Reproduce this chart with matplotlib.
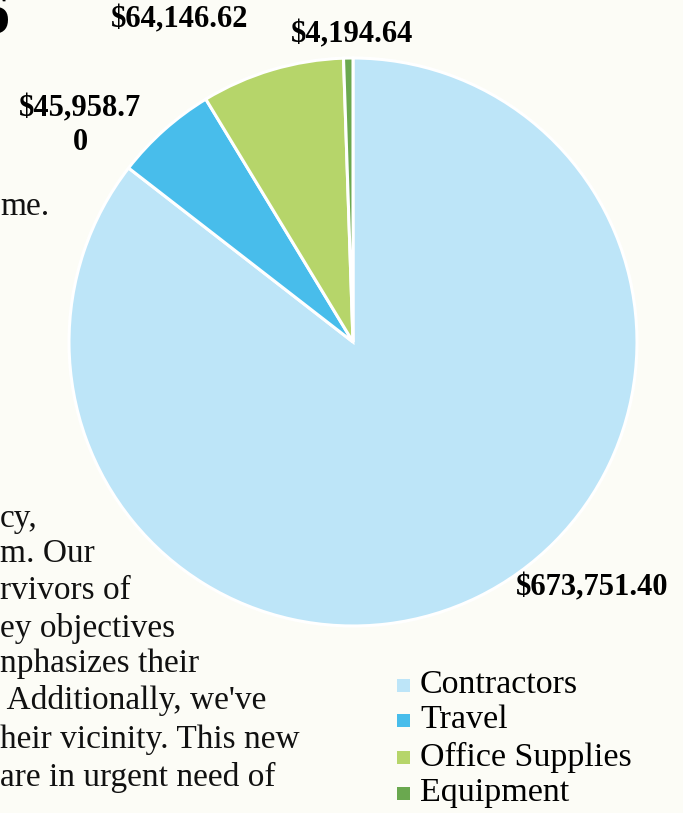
import matplotlib.pyplot as plt
from matplotlib.patches import Rectangle

# expense breakdown
categories = ['Contractors', 'Travel', 'Office Supplies', 'Equipment']
amounts = [673751.40, 45958.70, 64146.62, 4194.64]
colors = ['#bde5f8', '#48bdeb', '#b6d56a', '#6aa84f']
value_labels = ['$673,751.40', '$45,958.7\n0', '$64,146.62', '$4,194.64']

# page text that sits behind the chart
page_lines = ['me.', 'cy,', 'm. Our', 'rvivors of', 'ey objectives',
              'nphasizes their', ' Additionally, we\'ve',
              'heir vicinity. This new', 'are in urgent need of']
page_line_y = [207, 519, 554, 591, 628, 664, 700, 740, 777]

W, H = 683, 813
SERIF = ['Liberation Serif', 'DejaVu Serif']

fig = plt.figure(figsize=(W / 100, H / 100), dpi=100)
fig.patch.set_facecolor('#fcfcf6')
ax = fig.add_axes([0, 0, 1, 1])

# background page text
ax.text(-22, H - 18, '6', fontsize=46, fontweight='bold', family=SERIF,
        va='center', ha='left')
for line, y in zip(page_lines, page_line_y):
    ax.text(0, H - y, line, fontsize=24, family=SERIF, va='center',
            ha='left', color='#111111', zorder=1)

cx, cy, r = 353, H - 342, 284
wedges, _ = ax.pie(amounts, colors=colors, startangle=90, counterclock=False,
                   center=(cx, cy), radius=r, frame=True,
                   wedgeprops=dict(edgecolor='white', linewidth=2.2))
for w in wedges:
    w.set_zorder(3)
ax.set_xlim(0, W)
ax.set_ylim(0, H)
ax.set_aspect('equal')
ax.axis('off')

# value labels outside the slices
label_pos = [(592, 588), (80, 126), (180, 20), (352, 35)]
for txt, (x, y) in zip(value_labels, label_pos):
    ax.text(x, H - y, txt, fontsize=22, fontweight='bold', family=SERIF,
            ha='center', va='center', linespacing=1.2, zorder=5)

# legend
leg_y = [685, 720, 757, 793]
for name, c, y in zip(categories, colors, leg_y):
    ax.add_patch(Rectangle((397, H - y - 7), 13, 13, facecolor=c,
                           edgecolor='none', zorder=5))
    ax.text(420, H - y, name, fontsize=24.5, family=SERIF, va='center',
            ha='left', zorder=5)

fig.savefig('out.png', dpi=100, facecolor=fig.get_facecolor())
